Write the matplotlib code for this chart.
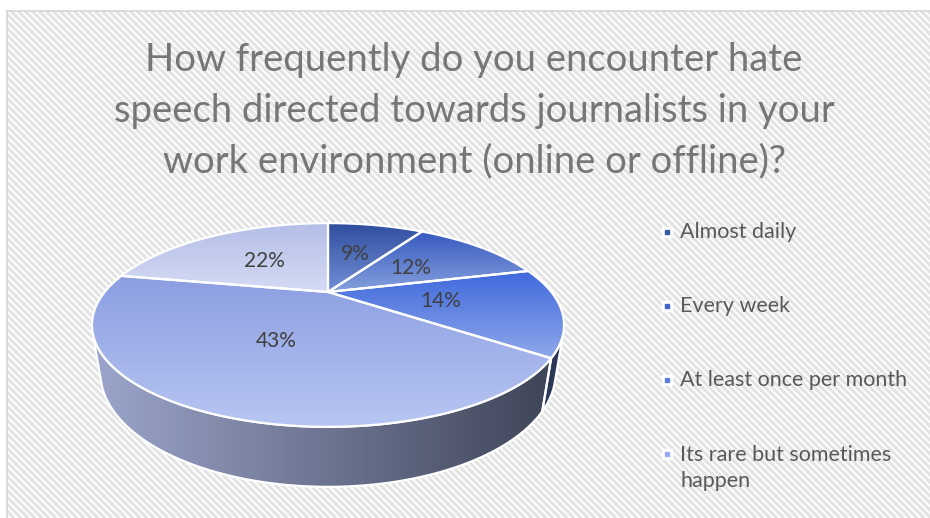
import numpy as np
import matplotlib
matplotlib.use("Agg")
import matplotlib.pyplot as plt
from matplotlib.patches import Polygon
from matplotlib.collections import LineCollection
from matplotlib.colors import LinearSegmentedColormap

plt.rcParams['font.family'] = ['Lato', 'DejaVu Sans']

title = "How frequently do you encounter hate\nspeech directed towards journalists in your\nwork environment (online or offline)?"
shares = [9, 12, 14, 43, 22]
legend_labels = ["Almost daily", "Every week", "At least once per month",
                 "Its rare but sometimes\nhappen"]
top_colors = [("#2f4d9e", "#7391d6"), ("#3659c0", "#86a0dd"),
              ("#3f68dc", "#8ea8ea"), ("#8c9ee2", "#b8c6f2"),
              ("#b4bee7", "#d5dbf4")]
side_colors = [None, None, ("#2c3858", "#2c3858"), ("#9ca6cc", "#3e4457"), None]
legend_colors = ["#3a5aa8", "#4466cc", "#5a7ee0", "#9aaaf0"]

W, H = 930, 518
fig = plt.figure(figsize=(W / 100, H / 100), dpi=100)
ax = fig.add_axes([0, 0, 1, 1])
ax.set_axis_off()

# striped chart background
x0, y0 = 7, 11
segs = []
for k in range(-H, W, 7):
    segs.append([(k, 0), (k + H, H)])
bg = LineCollection(segs, colors="#e3e3e3", linewidths=2.2, zorder=0)
ax.add_collection(bg)
clip = Polygon([(x0, y0), (W + 5, y0), (W + 5, H + 5), (x0, H + 5)],
               closed=True, facecolor="none", edgecolor="none")
ax.add_patch(clip)
bg.set_clip_path(clip)
ax.plot([x0, W], [y0, y0], color="#d6d6d6", lw=1.2, zorder=1)
ax.plot([x0, x0], [y0, H], color="#d6d6d6", lw=1.2, zorder=1)

# perspective projection of the tilted disc
tilt = np.radians(24.1)
cs, sn = np.cos(tilt), np.sin(tilt)
dist, foc, thick = 2.819, 629.5, 0.231
cx, cy = 328, 292


def proj(theta, y, r=1.0):
    px = r * np.sin(theta)
    pz = -r * np.cos(theta)
    d = dist - (pz * cs + y * sn)
    u = foc * px / d
    v = foc * (y * cs - pz * sn) / d
    return cx + u, cy - v


def grad_fill(pts, c_a, c_b, horizontal, z):
    poly = Polygon(pts, closed=True, facecolor="none", edgecolor="none")
    ax.add_patch(poly)
    xs, ys = pts[:, 0], pts[:, 1]
    cmap = LinearSegmentedColormap.from_list("g", [c_a, c_b])
    g = np.linspace(0, 1, 256)
    arr = g[None, :] if horizontal else g[:, None]
    if horizontal:
        ext = [92, 555, ys.max(), ys.min()]
    else:
        ext = [xs.min(), xs.max(), ys.max(), ys.min()]
    im = ax.imshow(arr, cmap=cmap, extent=ext, origin="upper",
                   aspect="auto", zorder=z, interpolation="bilinear")
    im.set_clip_path(poly)


bounds = np.radians(np.concatenate([[0], np.cumsum(shares)]) * 3.6)
lim = np.arccos(-1 / (dist * cs))
vis_a, vis_b = lim, 2 * np.pi - lim

# side walls
for i in range(len(shares)):
    if side_colors[i] is None:
        continue
    a, b = max(bounds[i], vis_a), min(bounds[i + 1], vis_b)
    if a >= b:
        continue
    t = np.linspace(a, b, 80)
    top = np.array([proj(tt, 0) for tt in t])
    bot = np.array([proj(tt, -thick) for tt in t[::-1]])
    pts = np.vstack([top, bot])
    grad_fill(pts, side_colors[i][0], side_colors[i][1], i == 3, 2)
    ax.add_patch(Polygon(pts, closed=True, facecolor="none",
                         edgecolor="white", lw=1.6, zorder=3))

# top faces
for i in range(len(shares)):
    t = np.linspace(bounds[i], bounds[i + 1], 120)
    arc = np.array([proj(tt, 0) for tt in t])
    pts = np.vstack([[proj(0, 0, 0)], arc])
    grad_fill(pts, top_colors[i][0], top_colors[i][1], False, 4)
    ax.add_patch(Polygon(pts, closed=True, facecolor="none",
                         edgecolor="white", lw=1.6, zorder=5,
                         joinstyle="round"))

# percentage labels
for i, s in enumerate(shares):
    mid = (bounds[i] + bounds[i + 1]) / 2
    lx, ly = proj(mid, 0, 0.5)
    ax.text(lx, ly, f"{s}%", ha="center", va="center", fontsize=15,
            color="#404040", zorder=6)

ax.text(474, 111, title, ha="center", va="center", fontsize=27.5,
        color="#767676", linespacing=1.5, zorder=6)

# legend
rows = [232, 306, 380, 468]
for lab, col, ry in zip(legend_labels, legend_colors, rows):
    my = ry - 14 if "\n" in lab else ry
    ax.plot([667], [my], marker="s", ms=7, color="white", zorder=6)
    ax.plot([667], [my], marker="s", ms=3, color=col, zorder=7)
    ax.text(680, ry, lab, ha="left", va="center",
            fontsize=15.5, color="#595959", linespacing=1.35, zorder=6)

ax.set_xlim(0, W)
ax.set_ylim(H, 0)
fig.savefig("out.png", dpi=100)
